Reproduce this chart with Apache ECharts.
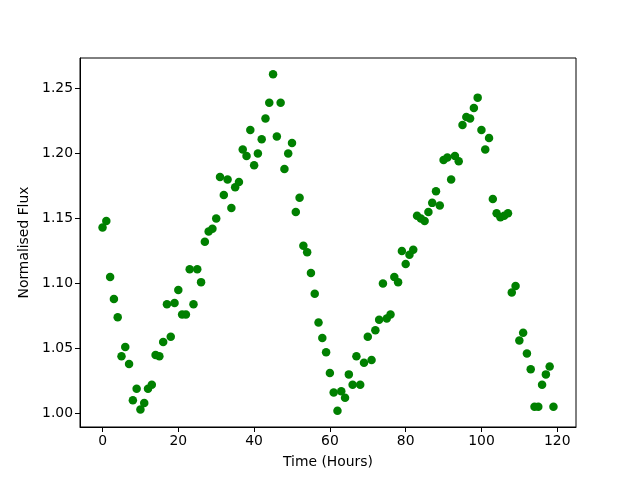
<!DOCTYPE html>
<html>
<head>
<meta charset="utf-8">
<script src="https://cdn.jsdelivr.net/npm/echarts@6/dist/echarts.min.js"></script>
<style>
  html, body { margin: 0; padding: 0; background: #fff; }
  #chart { width: 640px; height: 480px; }
</style>
</head>
<body>
<div id="chart"></div>
<script>
// time in hours, one reading per hour
const hours = [];
for (let i = 0; i < 120; i++) hours.push(i);

// normalised flux
const flux = [
  1.143, 1.148, 1.105, 1.088, 1.074, 1.044, 1.051, 1.038, 1.010, 1.019,
  1.003, 1.008, 1.019, 1.022, 1.045, 1.044, 1.055, 1.084, 1.059, 1.085,
  1.095, 1.076, 1.076, 1.111, 1.084, 1.111, 1.101, 1.132, 1.140, 1.142,
  1.150, 1.182, 1.168, 1.180, 1.158, 1.174, 1.178, 1.203, 1.198, 1.218,
  1.191, 1.200, 1.211, 1.227, 1.239, 1.261, 1.213, 1.239, 1.188, 1.200,
  1.208, 1.155, 1.166, 1.129, 1.124, 1.108, 1.092, 1.070, 1.058, 1.047,
  1.031, 1.016, 1.002, 1.017, 1.012, 1.030, 1.022, 1.044, 1.022, 1.039,
  1.059, 1.041, 1.064, 1.072, 1.100, 1.073, 1.076, 1.105, 1.101, 1.125,
  1.115, 1.122, 1.126, 1.152, 1.150, 1.148, 1.155, 1.162, 1.171, 1.160,
  1.195, 1.197, 1.180, 1.198, 1.194, 1.222, 1.228, 1.227, 1.235, 1.243,
  1.218, 1.203, 1.212, 1.165, 1.154, 1.151, 1.152, 1.154, 1.093, 1.098,
  1.056, 1.062, 1.046, 1.034, 1.005, 1.005, 1.022, 1.030, 1.036, 1.005
];

const xTicks = [0, 20, 40, 60, 80, 100, 120];
const yTicks = [1.00, 1.05, 1.10, 1.15, 1.20, 1.25];

const chart = echarts.init(document.getElementById('chart'), null, { renderer: 'canvas' });

const font = 'DejaVu Sans';

const option = {
  backgroundColor: '#ffffff',
  animation: false,
  grid: {
    left: 80, right: 64, top: 58, bottom: 53,
    show: true,
    borderColor: '#000',
    borderWidth: 1,
    containLabel: false
  },
  xAxis: {
    type: 'value',
    min: -5.95,
    max: 124.95,
    name: 'Time (Hours)',
    nameLocation: 'middle',
    nameGap: 28,
    nameTextStyle: { color: '#000', fontFamily: font, fontSize: 13.9 },
    axisLine: { show: true, onZero: false, lineStyle: { color: '#000', width: 1 } },
    splitLine: { show: false },
    axisTick: {
      show: true, inside: false, length: 5,
      customValues: xTicks,
      lineStyle: { color: '#000', width: 1 }
    },
    axisLabel: {
      customValues: xTicks,
      color: '#000', fontFamily: font, fontSize: 13.9, margin: 7
    }
  },
  yAxis: {
    type: 'value',
    min: 0.9895,
    max: 1.2735,
    name: 'Normalised Flux',
    nameLocation: 'middle',
    nameGap: 48,
    nameTextStyle: { color: '#000', fontFamily: font, fontSize: 13.9 },
    axisLine: { show: true, onZero: false, lineStyle: { color: '#000', width: 1 } },
    splitLine: { show: false },
    axisTick: {
      show: true, inside: false, length: 5,
      customValues: yTicks,
      lineStyle: { color: '#000', width: 1 }
    },
    axisLabel: {
      customValues: yTicks,
      formatter: v => v.toFixed(2),
      color: '#000', fontFamily: font, fontSize: 13.9, margin: 7
    }
  },
  series: [{
    type: 'scatter',
    data: hours.map((h, i) => [h, flux[i]]),
    symbol: 'circle',
    symbolSize: 8.5,
    itemStyle: { color: '#008000', opacity: 1 }
  }]
};

chart.setOption(option);
</script>
</body>
</html>
